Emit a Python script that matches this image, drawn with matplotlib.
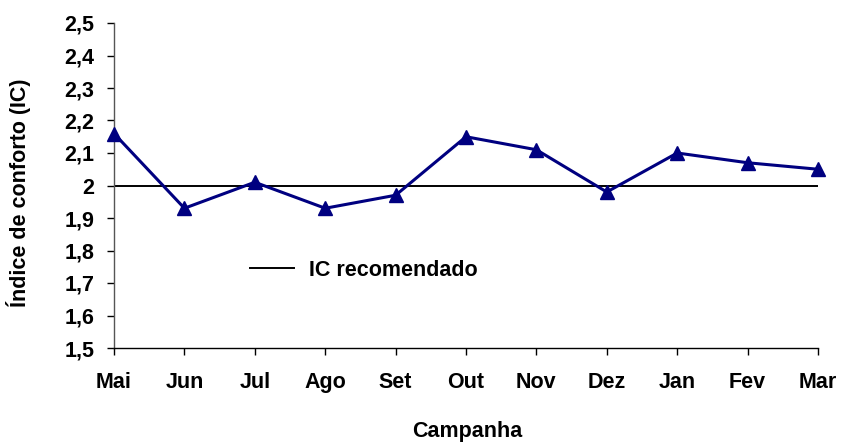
import matplotlib
matplotlib.use("Agg")
import matplotlib.pyplot as plt

months = ["Mai", "Jun", "Jul", "Ago", "Set", "Out", "Nov", "Dez", "Jan", "Fev", "Mar"]
ic_values = [2.16, 1.93, 2.01, 1.93, 1.97, 2.15, 2.11, 1.98, 2.10, 2.07, 2.05]
ic_recomendado = 2.0
y_ticks = [1.5, 1.6, 1.7, 1.8, 1.9, 2.0, 2.1, 2.2, 2.3, 2.4, 2.5]
y_labels = ["1,5", "1,6", "1,7", "1,8", "1,9", "2", "2,1", "2,2", "2,3", "2,4", "2,5"]

plt.rcParams['font.family'] = ['Liberation Sans', 'DejaVu Sans']
FS = 15.5
PX = FS * 100 / 72

fig = plt.figure(figsize=(8.41, 4.45), dpi=100)
ax = fig.add_axes([114/841, 1-348/445, (818-114)/841, (348-23)/445])

x = list(range(len(months)))
ax.plot(x, ic_values, color="#000080", lw=2.2, marker="^", markersize=10,
        markerfacecolor="#000080", markeredgecolor="#000080", zorder=3, clip_on=False)
ax.plot([x[0], x[-1]], [ic_recomendado, ic_recomendado], color="black", lw=1.4,
        label="IC recomendado", zorder=2)

ax.set_xlim(0, len(months) - 1)
ax.set_ylim(1.5, 2.5)
ax.set_xticks(x)
ax.set_xticklabels(months, fontsize=FS, fontweight="bold")
ax.set_yticks(y_ticks)
ax.set_yticklabels(y_labels, fontsize=FS, fontweight="bold")
ax.tick_params(axis="both", direction="out", length=5, width=1, color="black")
ax.tick_params(axis="x", pad=12)
ax.tick_params(axis="y", pad=9)

for s in ["top", "right"]:
    ax.spines[s].set_visible(False)
ax.spines["left"].set_color("#555555")
ax.spines["bottom"].set_color("black")
ax.spines["left"].set_linewidth(1)
ax.spines["bottom"].set_linewidth(1)

ax.set_xlabel("Campanha", fontsize=FS, fontweight="bold", va="center", ha="center")
ax.set_ylabel("Índice de conforto (IC)", fontsize=FS, fontweight="bold", va="center", ha="center")
ax.xaxis.set_label_coords(467/841, 1-432/445, transform=fig.transFigure)
ax.yaxis.set_label_coords(19/841, 1-193/445, transform=fig.transFigure)

leg = ax.legend(loc="center left", bbox_to_anchor=((250-114)/704, (348-270)/325), frameon=False,
                prop={"size": FS, "weight": "bold"}, borderpad=0, borderaxespad=0,
                handlelength=44/PX, handletextpad=15/PX)

fig.savefig("out.png", dpi=100)
